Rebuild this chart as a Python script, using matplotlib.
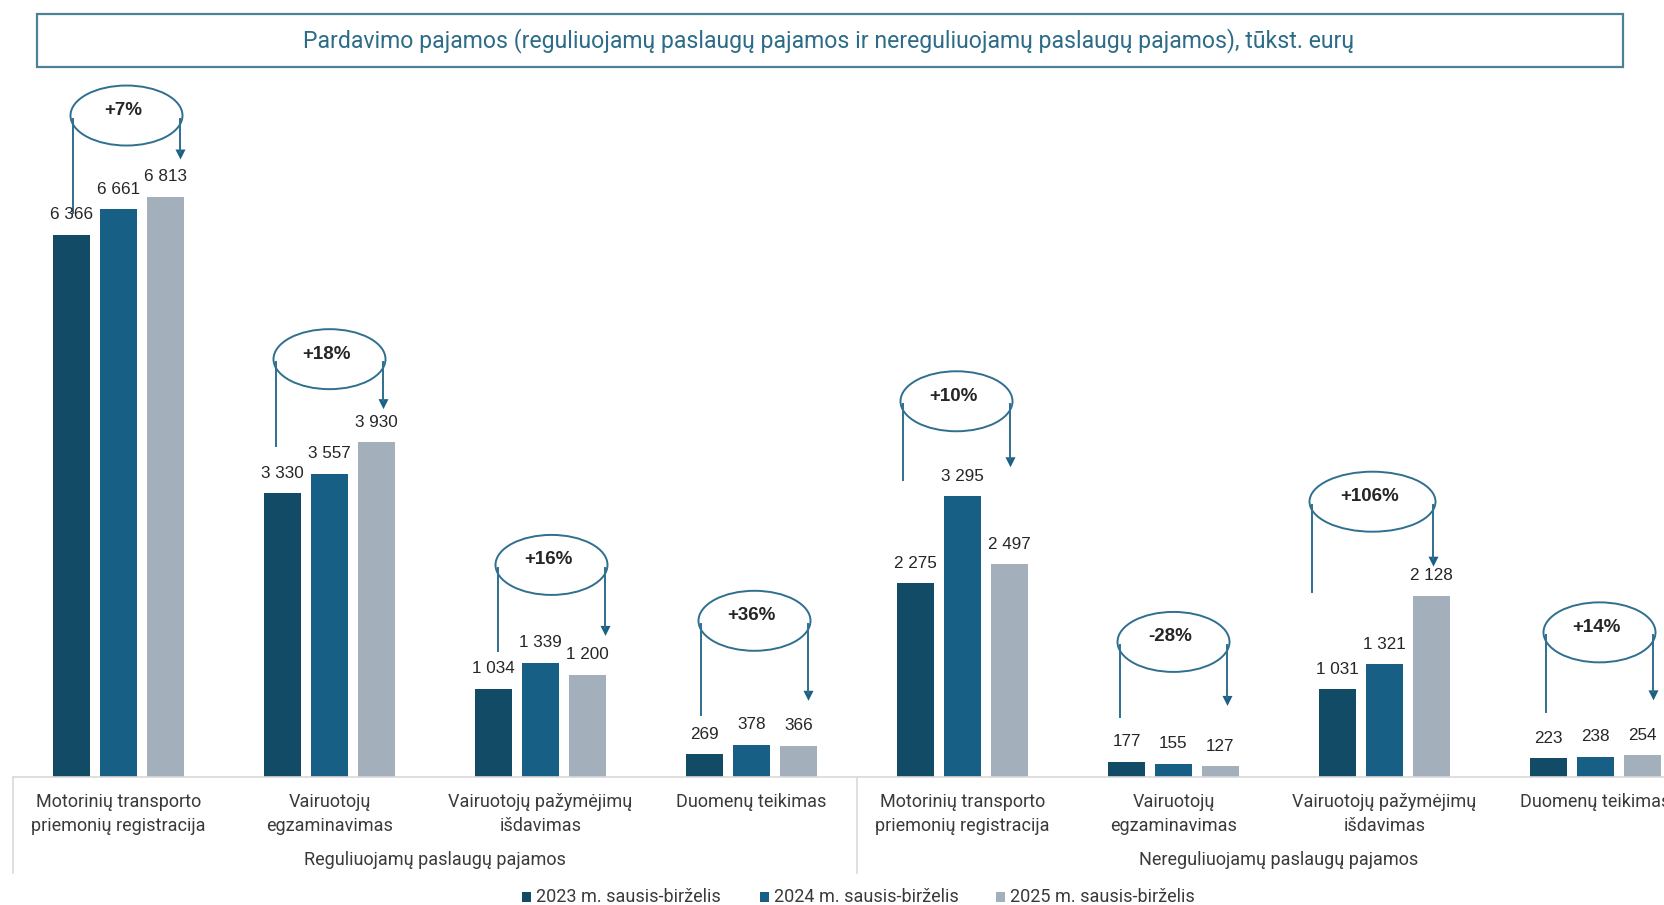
import matplotlib
matplotlib.use("Agg")
import matplotlib.pyplot as plt
from matplotlib.patches import Ellipse, Rectangle, Polygon
import numpy as np

# ---------------- data ----------------
title = "Pardavimo pajamos (reguliuojamų paslaugų pajamos ir nereguliuojamų paslaugų pajamos), tūkst. eurų"
series = ["2023 m. sausis-birželis", "2024 m. sausis-birželis", "2025 m. sausis-birželis"]
categories = [
    "Motorinių transporto\npriemonių registracija",
    "Vairuotojų\negzaminavimas",
    "Vairuotojų pažymėjimų\nišdavimas",
    "Duomenų teikimas",
    "Motorinių transporto\npriemonių registracija",
    "Vairuotojų\negzaminavimas",
    "Vairuotojų pažymėjimų\nišdavimas",
    "Duomenų teikimas",
]
groups = ["Reguliuojamų paslaugų pajamos", "Nereguliuojamų paslaugų pajamos"]
v2023 = [6366, 3330, 1034, 269, 2275, 177, 1031, 223]
v2024 = [6661, 3557, 1339, 378, 3295, 155, 1321, 238]
v2025 = [6813, 3930, 1200, 366, 2497, 127, 2128, 254]
changes = ["+7%", "+18%", "+16%", "+36%", "+10%", "-28%", "+106%", "+14%"]

# ---------------- layout / style ----------------
W, H = 1665, 905
colors = ["#124b66", "#175f84", "#a3afbb"]
line_c = "#2f6f8f"
txt_c = "#262626"
cat_c = "#3a3a3a"
ell_gap = [81, 83, 98, 124, 95, 120, 94, 123]
ell_dx = [8, 0, 11, 3, -6, 0, -12, 4]
ell_w = [112, 112, 112, 112, 112, 112, 126, 112]
ell_h = 60
left_len = [97, 87, 86, 94, 79, 75, 90, 80]
tip_len = [44, 50, 71, 80, 66, 64, 65, 68]

fig = plt.figure(figsize=(W / 100, H / 100), dpi=100)
base_y = 777
top_y = 100
ax = fig.add_axes([13 / W, (H - base_y) / H, 1688 / W, (base_y - top_y) / H])
n = len(categories)
x = np.arange(n)
pitch, bw = 0.2227, 0.175
all_vals = [v2023, v2024, v2025]
for k, (vals, c) in enumerate(zip(all_vals, colors)):
    ax.bar(x + (k - 1) * pitch, vals, width=bw, color=c, zorder=2)
ax.set_xlim(-0.5, n - 0.5)
ax.set_ylim(0, (base_y - top_y) / 0.0852)
ax.axis("off")

ov = fig.add_axes([0, 0, 1, 1])
ov.set_xlim(0, W)
ov.set_ylim(H, 0)
ov.axis("off")


def to_px(xd, yd):
    p = ax.transData.transform((xd, yd))
    return p[0], H - p[1]


VAL_FONT = ["Liberation Sans", "DejaVu Sans"]
CAT_FONT = ["Roboto", "DejaVu Sans"]

# value labels
for k, vals in enumerate(all_vals):
    for i, v in enumerate(vals):
        px, py = to_px(i + (k - 1) * pitch, v)
        ov.text(px, py - 20, f"{v:,}".replace(",", " "), ha="center", va="center",
                fontsize=12.3, family=VAL_FONT, color=txt_c)

# change annotations
for i in range(n):
    gc = to_px(i, 0)[0]
    top_max = to_px(i, max(v2023[i], v2024[i], v2025[i]))[1]
    ecx = gc + ell_dx[i]
    ecy = top_max - ell_gap[i]
    w = ell_w[i]
    ov.add_patch(Ellipse((ecx, ecy), w, ell_h, fill=False, ec=line_c, lw=1.4))
    lx = ecx - w / 2 + 3
    ov.plot([lx, lx], [ecy + 3, ecy + left_len[i]], color=line_c, lw=1.4)
    rx = ecx + w / 2 - 2
    tip = ecy + tip_len[i]
    ov.plot([rx, rx], [ecy + 3, tip - 8], color=line_c, lw=1.4)
    ov.add_patch(Polygon([(rx - 5, tip - 10), (rx + 5, tip - 10), (rx, tip)],
                         closed=True, fc="#1c6184", ec="none"))
    ov.text(ecx - 3, ecy - 5, changes[i], ha="center", va="center", fontsize=13.5,
            weight="bold", family=VAL_FONT, color=txt_c)

# category box
grid_c = "#d9d9d9"
ov.plot([13, W], [base_y, base_y], color=grid_c, lw=1.2)
ov.plot([13, 13], [base_y, 873], color=grid_c, lw=1.2)
div = to_px(3.5, 0)[0]
ov.plot([div, div], [base_y, 873], color=grid_c, lw=1.2)

for i, c in enumerate(categories):
    gc = to_px(i, 0)[0]
    ov.text(gc, 793, c, ha="center", va="top", fontsize=13, family=CAT_FONT,
            color=cat_c, linespacing=1.42)
for g, gname in enumerate(groups):
    gx = (to_px(4 * g - 0.5, 0)[0] + to_px(4 * g + 3.5, 0)[0]) / 2
    ov.text(gx, 860, gname, ha="center", va="center", fontsize=13, family=CAT_FONT,
            color=cat_c)

# legend
leg_x = [522, 760, 996]
for s, c, lxp in zip(series, colors, leg_x):
    ov.add_patch(Rectangle((lxp, 892), 9, 10, fc=c, ec="none"))
    ov.text(lxp + 14, 897, s, ha="left", va="center", fontsize=13, family=CAT_FONT,
            color=cat_c)

# title
ov.add_patch(Rectangle((37, 14), 1586, 53, fill=False, ec="#4e8096", lw=1.6))
ov.text(829, 41, title, ha="center", va="center", fontsize=16.6, family=CAT_FONT,
        color="#2d6c88")

fig.savefig("out.png", dpi=100)
